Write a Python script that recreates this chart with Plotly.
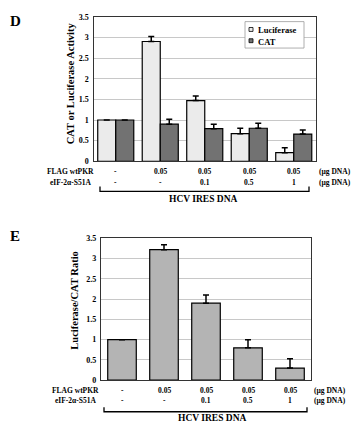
import plotly.graph_objects as go

# ---- data ----
groups = [0, 1, 2, 3, 4]
flag_wtpkr = ["-", "0.05", "0.05", "0.05", "0.05"]
eif_s51a = ["-", "-", "0.1", "0.5", "1"]

luc_vals = [1.0, 2.9, 1.47, 0.67, 0.21]
luc_err = [None, 0.12, 0.11, 0.13, 0.12]
cat_vals = [1.0, 0.9, 0.79, 0.8, 0.66]
cat_err = [None, 0.12, 0.11, 0.12, 0.1]

ratio_vals = [1.0, 3.22, 1.9, 0.8, 0.3]
ratio_err = [None, 0.12, 0.2, 0.2, 0.23]

yticks = [0, 0.5, 1, 1.5, 2, 2.5, 3, 3.5]
ytick_text = ["0", "0.5", "1", "1.5", "2", "2.5", "3", "3.5"]

W, H = 355, 428
FONT = "Liberation Serif"
LUC_COLOR = "#ebebeb"
CAT_COLOR = "#727272"
RATIO_COLOR = "#b4b4b4"


def px(x):
    return x / W


def py(y):
    return 1 - y / H


fig = go.Figure()

err_style = dict(type="data", symmetric=False, color="black", thickness=1.5, width=3)
no_minus = [None, 0, 0, 0, 0]

fig.add_trace(go.Bar(
    x=groups, y=luc_vals, name="Luciferase", xaxis="x", yaxis="y",
    marker=dict(color=LUC_COLOR, line=dict(color="black", width=1.2)),
    error_y=dict(array=luc_err, arrayminus=no_minus, **err_style),
))
fig.add_trace(go.Bar(
    x=groups, y=cat_vals, name="CAT", xaxis="x", yaxis="y",
    marker=dict(color=CAT_COLOR, line=dict(color="black", width=1.2)),
    error_y=dict(array=cat_err, arrayminus=no_minus, **err_style),
))
fig.add_trace(go.Bar(
    x=groups, y=ratio_vals, name="Ratio", xaxis="x2", yaxis="y2",
    width=0.68, offsetgroup="r", alignmentgroup="r",
    marker=dict(color=RATIO_COLOR, line=dict(color="black", width=1.2)),
    error_y=dict(array=ratio_err, arrayminus=no_minus, **err_style),
))

axis_common = dict(
    showgrid=False, zeroline=False, showticklabels=False, ticks="",
    range=[-0.5, 4.5], fixedrange=True,
    showline=True, linecolor="#333", linewidth=1.2, mirror=True,
)
yaxis_common = dict(
    range=[0, 3.5], tickvals=yticks, ticktext=ytick_text,
    showgrid=True, gridcolor="#c8c8c8", gridwidth=1, zeroline=False,
    showline=True, linecolor="#333", linewidth=1.2, mirror=True,
    ticks="", tickfont=dict(family=FONT, size=8, color="black", weight="bold"),
    ticklabelstandoff=2,
)

annotations = []
shapes = []


def add_panel(xa, letter, letter_y, ytitle, ytitle_x, ytitle_y, ytitle_size,
              row1_y, row2_y, lab_x, unit_x, br_x0, br_x1, br_y, br_top, hcv_x, hcv_y):
    annotations.append(dict(x=px(8), y=py(letter_y), xref="paper", yref="paper",
                            text=letter, showarrow=False, xanchor="left", yanchor="middle",
                            font=dict(family=FONT, size=15, color="black", weight="bold")))
    annotations.append(dict(x=px(ytitle_x), y=py(ytitle_y), xref="paper", yref="paper",
                            text=ytitle, showarrow=False, textangle=-90,
                            xanchor="center", yanchor="middle",
                            font=dict(family=FONT, size=ytitle_size, color="black", weight="bold")))
    for lab, yy in (("FLAG wtPKR", row1_y), ("eIF-2\u03b1-S51A", row2_y)):
        annotations.append(dict(x=px(lab_x), y=py(yy), xref="paper", yref="paper",
                                text=lab, showarrow=False, xanchor="center", yanchor="middle",
                                font=dict(family=FONT, size=7.5, color="black", weight="bold")))
        annotations.append(dict(x=px(unit_x), y=py(yy), xref="paper", yref="paper",
                                text="(\u00b5g DNA)", showarrow=False, xanchor="left", yanchor="middle",
                                font=dict(family=FONT, size=7.5, color="black", weight="bold")))
    for g, a, b in zip(groups, flag_wtpkr, eif_s51a):
        for txt, yy in ((a, row1_y), (b, row2_y)):
            annotations.append(dict(x=g, y=py(yy), xref=xa, yref="paper",
                                    text=txt, showarrow=False, xanchor="center", yanchor="middle",
                                    font=dict(family=FONT, size=7.5, color="black", weight="bold")))
    shapes.append(dict(type="path", xref="paper", yref="paper",
                       path=f"M {px(br_x0)} {py(br_top)} L {px(br_x0)} {py(br_y)} "
                            f"L {px(br_x1)} {py(br_y)} L {px(br_x1)} {py(br_top)}",
                       line=dict(color="black", width=1.3)))
    annotations.append(dict(x=px(hcv_x), y=py(hcv_y), xref="paper", yref="paper",
                            text="HCV IRES DNA", showarrow=False, xanchor="center", yanchor="middle",
                            font=dict(family=FONT, size=9.5, color="black", weight="bold")))


dx1 = [px(93.5), px(316)]
dy1 = [py(160.7), py(13)]
dx2 = [px(101), px(311)]
dy2 = [py(384.3), py(239.3)]

add_panel("x", "D", 17, "CAT or Luciferase Activity", 70, 81, 10.5,
          171.5, 182.5, 70, 317, 100, 309, 191.5, 186.5, 203, 199.5)
add_panel("x2", "E", 237, "Luciferase/CAT Ratio", 75, 303, 10.5,
          395, 405.5, 75, 312, 104, 307, 416.5, 412, 212, 423)

# manual legend for panel D
shapes.append(dict(type="rect", xref="paper", yref="paper",
                   x0=px(245), x1=px(304), y0=py(45), y1=py(18),
                   line=dict(color="#9a9a9a", width=0.8), fillcolor="white", layer="above"))
for name, color, sy in (("Luciferase", LUC_COLOR, 26), ("CAT", CAT_COLOR, 37.5)):
    shapes.append(dict(type="rect", xref="paper", yref="paper",
                       x0=px(249), x1=px(253), y0=py(sy + 2), y1=py(sy - 2),
                       line=dict(color="black", width=0.8), fillcolor=color, layer="above"))
    annotations.append(dict(x=px(256), y=py(sy + 1), xref="paper", yref="paper",
                            text=name, showarrow=False, xanchor="left", yanchor="middle",
                            font=dict(family=FONT, size=8.5, color="black", weight="bold")))

fig.update_layout(
    width=W, height=H, margin=dict(l=0, r=0, t=0, b=0),
    paper_bgcolor="white", plot_bgcolor="white",
    barmode="group", bargap=0.19, bargroupgap=0.0,
    xaxis=dict(domain=dx1, anchor="y", **axis_common),
    yaxis=dict(domain=dy1, anchor="x", **yaxis_common),
    xaxis2=dict(domain=dx2, anchor="y2", **axis_common),
    yaxis2=dict(domain=dy2, anchor="x2", **yaxis_common),
    annotations=annotations, shapes=shapes,
    showlegend=False,
)

fig.write_html("out.html")
